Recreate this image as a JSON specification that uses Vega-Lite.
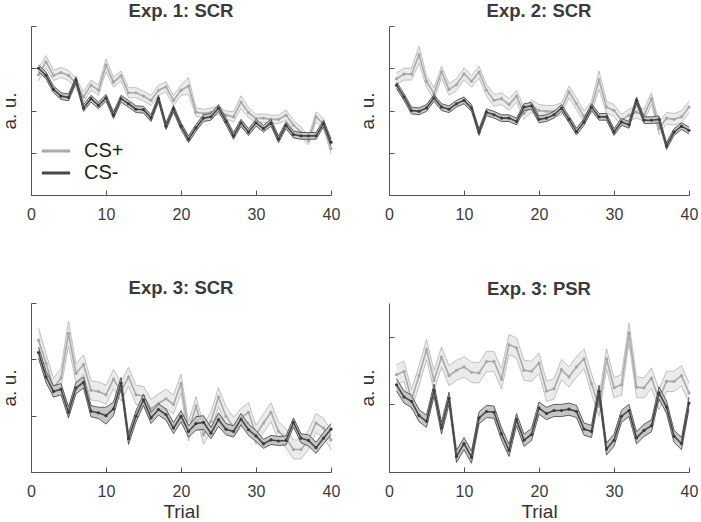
{
"$schema": "https://vega.github.io/schema/vega-lite/v6.json",
"padding": {"left": 0, "top": 2, "right": 5, "bottom": 0},
"config": {
  "view": {"stroke": null},
  "axis": {"grid": false, "domainColor": "#555", "domainWidth": 1, "tickColor": "#555", "tickSize": -5, "tickWidth": 1, "labelFont": "Liberation Sans", "labelFontSize": 16, "labelColor": "#3a3a3a", "labelPadding": 16, "labelFlush": false, "titleFont": "Liberation Sans", "titleFontSize": 19, "titleFontWeight": "normal", "titleColor": "#333"},
  "axisY": {"titlePadding": 11},
  "axisX": {"titlePadding": 3},
  "title": {"font": "Liberation Sans", "fontSize": 18.5, "fontWeight": "bold", "color": "#3a3a3a", "offset": 5}
},
"datasets": {
"p1": [
{"t":1,"a":2.85,"ea":0.15,"b":3.0,"eb":0.08},{"t":2,"a":3.15,"ea":0.15,"b":2.83,"eb":0.08},{"t":3,"a":2.83,"ea":0.12,"b":2.5,"eb":0.08},{"t":4,"a":2.9,"ea":0.12,"b":2.34,"eb":0.08},{"t":5,"a":2.83,"ea":0.12,"b":2.31,"eb":0.08},{"t":6,"a":2.64,"ea":0.12,"b":2.72,"eb":0.08},{"t":7,"a":2.32,"ea":0.12,"b":2.06,"eb":0.08},{"t":8,"a":2.6,"ea":0.12,"b":2.28,"eb":0.08},{"t":9,"a":2.48,"ea":0.12,"b":2.12,"eb":0.08},{"t":10,"a":3.07,"ea":0.15,"b":2.3,"eb":0.08},
{"t":11,"a":2.67,"ea":0.12,"b":1.89,"eb":0.08},{"t":12,"a":2.82,"ea":0.12,"b":2.28,"eb":0.08},{"t":13,"a":2.42,"ea":0.12,"b":2.16,"eb":0.08},{"t":14,"a":2.42,"ea":0.12,"b":2.03,"eb":0.08},{"t":15,"a":2.34,"ea":0.12,"b":2.02,"eb":0.08},{"t":16,"a":2.24,"ea":0.12,"b":1.82,"eb":0.08},{"t":17,"a":2.48,"ea":0.12,"b":2.28,"eb":0.08},{"t":18,"a":2.56,"ea":0.12,"b":1.63,"eb":0.08},{"t":19,"a":2.24,"ea":0.12,"b":2.04,"eb":0.08},{"t":20,"a":2.48,"ea":0.12,"b":1.63,"eb":0.08},
{"t":21,"a":2.58,"ea":0.2,"b":1.32,"eb":0.08},{"t":22,"a":1.96,"ea":0.1,"b":1.59,"eb":0.08},{"t":23,"a":1.93,"ea":0.1,"b":1.82,"eb":0.08},{"t":24,"a":1.96,"ea":0.1,"b":1.85,"eb":0.08},{"t":25,"a":2.0,"ea":0.1,"b":2.06,"eb":0.08},{"t":26,"a":1.89,"ea":0.1,"b":1.74,"eb":0.08},{"t":27,"a":1.85,"ea":0.12,"b":1.4,"eb":0.08},{"t":28,"a":2.2,"ea":0.15,"b":1.71,"eb":0.08},{"t":29,"a":1.95,"ea":0.12,"b":1.49,"eb":0.08},{"t":30,"a":1.81,"ea":0.1,"b":1.71,"eb":0.08},
{"t":31,"a":1.82,"ea":0.1,"b":1.57,"eb":0.08},{"t":32,"a":1.79,"ea":0.1,"b":1.71,"eb":0.08},{"t":33,"a":1.79,"ea":0.1,"b":1.32,"eb":0.08},{"t":34,"a":1.89,"ea":0.12,"b":1.65,"eb":0.08},{"t":35,"a":1.65,"ea":0.12,"b":1.43,"eb":0.08},{"t":36,"a":1.49,"ea":0.12,"b":1.4,"eb":0.08},{"t":37,"a":1.29,"ea":0.1,"b":1.4,"eb":0.08},{"t":38,"a":1.85,"ea":0.12,"b":1.4,"eb":0.08},{"t":39,"a":1.69,"ea":0.12,"b":1.69,"eb":0.08},{"t":40,"a":1.1,"ea":0.12,"b":1.25,"eb":0.08}
],
"p2": [
{"t":1,"a":2.75,"ea":0.14,"b":2.6,"eb":0.08},{"t":2,"a":2.86,"ea":0.14,"b":2.32,"eb":0.08},{"t":3,"a":2.86,"ea":0.14,"b":2.0,"eb":0.08},{"t":4,"a":3.32,"ea":0.2,"b":1.98,"eb":0.08},{"t":5,"a":2.69,"ea":0.14,"b":2.06,"eb":0.08},{"t":6,"a":2.4,"ea":0.14,"b":2.3,"eb":0.08},{"t":7,"a":2.91,"ea":0.14,"b":2.08,"eb":0.08},{"t":8,"a":2.5,"ea":0.14,"b":2.03,"eb":0.08},{"t":9,"a":2.61,"ea":0.14,"b":2.16,"eb":0.08},{"t":10,"a":2.87,"ea":0.14,"b":2.24,"eb":0.08},
{"t":11,"a":2.69,"ea":0.14,"b":2.06,"eb":0.08},{"t":12,"a":2.91,"ea":0.14,"b":1.49,"eb":0.08},{"t":13,"a":2.48,"ea":0.14,"b":1.96,"eb":0.08},{"t":14,"a":2.24,"ea":0.14,"b":1.9,"eb":0.08},{"t":15,"a":2.28,"ea":0.14,"b":1.82,"eb":0.08},{"t":16,"a":2.14,"ea":0.14,"b":1.82,"eb":0.08},{"t":17,"a":2.34,"ea":0.14,"b":1.74,"eb":0.08},{"t":18,"a":1.93,"ea":0.14,"b":2.08,"eb":0.08},{"t":19,"a":2.11,"ea":0.14,"b":2.11,"eb":0.08},{"t":20,"a":2.0,"ea":0.14,"b":1.79,"eb":0.08},
{"t":21,"a":1.98,"ea":0.14,"b":1.82,"eb":0.08},{"t":22,"a":1.98,"ea":0.14,"b":1.9,"eb":0.08},{"t":23,"a":2.04,"ea":0.14,"b":2.06,"eb":0.08},{"t":24,"a":2.44,"ea":0.14,"b":1.79,"eb":0.08},{"t":25,"a":2.16,"ea":0.14,"b":1.5,"eb":0.08},{"t":26,"a":1.85,"ea":0.14,"b":1.73,"eb":0.08},{"t":27,"a":2.08,"ea":0.14,"b":2.08,"eb":0.08},{"t":28,"a":2.72,"ea":0.22,"b":1.85,"eb":0.08},{"t":29,"a":2.08,"ea":0.14,"b":1.85,"eb":0.08},{"t":30,"a":2.0,"ea":0.14,"b":1.49,"eb":0.08},
{"t":31,"a":1.77,"ea":0.14,"b":1.73,"eb":0.08},{"t":32,"a":1.89,"ea":0.14,"b":1.66,"eb":0.08},{"t":33,"a":1.96,"ea":0.14,"b":2.24,"eb":0.08},{"t":34,"a":1.89,"ea":0.14,"b":1.77,"eb":0.08},{"t":35,"a":2.28,"ea":0.14,"b":1.77,"eb":0.08},{"t":36,"a":1.57,"ea":0.14,"b":1.79,"eb":0.08},{"t":37,"a":1.82,"ea":0.14,"b":1.16,"eb":0.08},{"t":38,"a":1.79,"ea":0.14,"b":1.49,"eb":0.08},{"t":39,"a":1.85,"ea":0.14,"b":1.63,"eb":0.08},{"t":40,"a":2.08,"ea":0.14,"b":1.53,"eb":0.08}
],
"p3": [
{"t":1,"a":2.34,"ea":0.22,"b":2.12,"eb":0.1},{"t":2,"a":1.93,"ea":0.17,"b":1.69,"eb":0.1},{"t":3,"a":1.49,"ea":0.17,"b":1.43,"eb":0.1},{"t":4,"a":1.67,"ea":0.17,"b":1.47,"eb":0.1},{"t":5,"a":2.46,"ea":0.22,"b":1.06,"eb":0.1},{"t":6,"a":1.75,"ea":0.17,"b":1.49,"eb":0.1},{"t":7,"a":1.91,"ea":0.17,"b":1.59,"eb":0.1},{"t":8,"a":1.45,"ea":0.17,"b":1.08,"eb":0.1},{"t":9,"a":1.43,"ea":0.17,"b":1.05,"eb":0.1},{"t":10,"a":1.37,"ea":0.17,"b":1.0,"eb":0.15},
{"t":11,"a":1.65,"ea":0.17,"b":1.12,"eb":0.12},{"t":12,"a":1.43,"ea":0.17,"b":1.58,"eb":0.1},{"t":13,"a":1.69,"ea":0.17,"b":0.59,"eb":0.1},{"t":14,"a":1.37,"ea":0.17,"b":0.99,"eb":0.1},{"t":15,"a":1.35,"ea":0.17,"b":1.28,"eb":0.1},{"t":16,"a":1.12,"ea":0.17,"b":0.96,"eb":0.1},{"t":17,"a":1.22,"ea":0.17,"b":1.11,"eb":0.1},{"t":18,"a":1.3,"ea":0.17,"b":1.02,"eb":0.1},{"t":19,"a":1.2,"ea":0.17,"b":0.78,"eb":0.1},{"t":20,"a":1.57,"ea":0.17,"b":0.99,"eb":0.1},
{"t":21,"a":0.72,"ea":0.17,"b":0.72,"eb":0.1},{"t":22,"a":1.17,"ea":0.17,"b":0.86,"eb":0.12},{"t":23,"a":0.66,"ea":0.17,"b":0.88,"eb":0.12},{"t":24,"a":0.9,"ea":0.17,"b":0.69,"eb":0.1},{"t":25,"a":1.33,"ea":0.17,"b":0.93,"eb":0.12},{"t":26,"a":0.99,"ea":0.17,"b":0.76,"eb":0.1},{"t":27,"a":0.8,"ea":0.17,"b":0.72,"eb":0.1},{"t":28,"a":0.96,"ea":0.17,"b":0.94,"eb":0.1},{"t":29,"a":1.06,"ea":0.17,"b":0.75,"eb":0.1},{"t":30,"a":0.66,"ea":0.17,"b":0.64,"eb":0.1},
{"t":31,"a":0.87,"ea":0.17,"b":0.5,"eb":0.08},{"t":32,"a":1.06,"ea":0.17,"b":0.57,"eb":0.08},{"t":33,"a":0.72,"ea":0.17,"b":0.55,"eb":0.08},{"t":34,"a":0.6,"ea":0.17,"b":0.56,"eb":0.08},{"t":35,"a":0.4,"ea":0.17,"b":0.88,"eb":0.08},{"t":36,"a":0.4,"ea":0.17,"b":0.6,"eb":0.08},{"t":37,"a":0.57,"ea":0.17,"b":0.56,"eb":0.1},{"t":38,"a":0.87,"ea":0.17,"b":0.43,"eb":0.1},{"t":39,"a":0.78,"ea":0.17,"b":0.6,"eb":0.1},{"t":40,"a":0.57,"ea":0.17,"b":0.76,"eb":0.1}
],
"p4": [
{"t":1,"a":2.88,"ea":0.3,"b":2.58,"eb":0.18},{"t":2,"a":2.98,"ea":0.3,"b":2.22,"eb":0.18},{"t":3,"a":2.14,"ea":0.3,"b":2.09,"eb":0.18},{"t":4,"a":2.85,"ea":0.3,"b":1.67,"eb":0.18},{"t":5,"a":3.62,"ea":0.3,"b":1.5,"eb":0.18},{"t":6,"a":2.71,"ea":0.3,"b":2.42,"eb":0.18},{"t":7,"a":3.4,"ea":0.3,"b":1.3,"eb":0.18},{"t":8,"a":2.85,"ea":0.3,"b":2.18,"eb":0.18},{"t":9,"a":3.01,"ea":0.3,"b":0.46,"eb":0.18},{"t":10,"a":3.11,"ea":0.3,"b":0.84,"eb":0.18},
{"t":11,"a":2.95,"ea":0.3,"b":0.44,"eb":0.18},{"t":12,"a":2.93,"ea":0.3,"b":1.6,"eb":0.18},{"t":13,"a":3.27,"ea":0.3,"b":1.79,"eb":0.18},{"t":14,"a":3.27,"ea":0.3,"b":1.77,"eb":0.18},{"t":15,"a":2.75,"ea":0.3,"b":1.13,"eb":0.18},{"t":16,"a":3.77,"ea":0.3,"b":0.64,"eb":0.18},{"t":17,"a":3.67,"ea":0.3,"b":1.55,"eb":0.18},{"t":18,"a":3.01,"ea":0.3,"b":0.94,"eb":0.18},{"t":19,"a":2.98,"ea":0.3,"b":1.11,"eb":0.18},{"t":20,"a":3.22,"ea":0.3,"b":1.89,"eb":0.18},
{"t":21,"a":2.39,"ea":0.3,"b":1.73,"eb":0.18},{"t":22,"a":2.46,"ea":0.3,"b":1.82,"eb":0.18},{"t":23,"a":3.03,"ea":0.3,"b":1.82,"eb":0.18},{"t":24,"a":2.81,"ea":0.3,"b":1.86,"eb":0.18},{"t":25,"a":3.11,"ea":0.3,"b":1.79,"eb":0.18},{"t":26,"a":3.35,"ea":0.3,"b":1.27,"eb":0.18},{"t":27,"a":2.61,"ea":0.3,"b":1.2,"eb":0.18},{"t":28,"a":1.94,"ea":0.3,"b":2.39,"eb":0.18},{"t":29,"a":3.35,"ea":0.3,"b":0.68,"eb":0.18},{"t":30,"a":2.49,"ea":0.3,"b":0.94,"eb":0.18},
{"t":31,"a":2.58,"ea":0.3,"b":1.65,"eb":0.18},{"t":32,"a":4.11,"ea":0.3,"b":1.82,"eb":0.18},{"t":33,"a":2.51,"ea":0.3,"b":1.01,"eb":0.18},{"t":34,"a":2.49,"ea":0.3,"b":1.23,"eb":0.18},{"t":35,"a":2.78,"ea":0.3,"b":1.37,"eb":0.18},{"t":36,"a":2.14,"ea":0.3,"b":2.34,"eb":0.18},{"t":37,"a":2.68,"ea":0.3,"b":1.92,"eb":0.18},{"t":38,"a":2.68,"ea":0.3,"b":1.06,"eb":0.18},{"t":39,"a":2.85,"ea":0.3,"b":0.84,"eb":0.18},{"t":40,"a":2.34,"ea":0.3,"b":2.04,"eb":0.18}
]
},
"columns": 2,
"spacing": {"row": 57, "column": 18},
"resolve": {"scale": {"x": "independent", "y": "independent", "color": "independent"}, "legend": {"color": "independent"}},
"concat": [
{
 "width": 300, "height": 169, "title": "Exp. 1: SCR", "data": {"name": "p1"},
 "encoding": {"x": {"field": "t", "type": "quantitative", "scale": {"domain": [0, 40], "nice": false}, "axis": {"values": [0, 10, 20, 30, 40], "title": null}}},
 "layer": [
  {"mark": {"type": "errorband", "color": "#ebebeb", "band": {"opacity": 1}, "borders": {"color": "#b4b4b4", "strokeWidth": 0.8}}, "encoding": {"y": {"field": "a", "type": "quantitative", "title": "a. u.", "scale": {"domain": [0, 4], "nice": false}, "axis": {"values": [0, 1, 2, 3, 4], "labels": false}}, "yError": {"field": "ea"}}},
  {"mark": {"type": "line", "strokeWidth": 1.6}, "encoding": {"y": {"field": "a", "type": "quantitative", "title": "a. u."}, "color": {"datum": "CS+", "type": "nominal", "scale": {"domain": ["CS+", "CS-"], "range": ["#aaaaaa", "#474747"]}, "legend": {"orient": "none", "legendX": 9, "legendY": 114, "title": null, "symbolType": "stroke", "symbolSize": 800, "symbolStrokeWidth": 3, "labelFont": "Liberation Sans", "labelFontSize": 20, "labelColor": "#222", "labelOffset": 12, "clipHeight": 22, "rowPadding": 0}}}},
  {"mark": {"type": "circle", "size": 10, "color": "#a6a6a6", "opacity": 1}, "encoding": {"y": {"field": "a", "type": "quantitative", "title": "a. u."}}},
  {"mark": {"type": "errorband", "color": "#c6c6c6", "band": {"opacity": 1}, "borders": {"color": "#3c3c3c", "strokeWidth": 0.8}}, "encoding": {"y": {"field": "b", "type": "quantitative", "title": "a. u."}, "yError": {"field": "eb"}}},
  {"mark": {"type": "line", "strokeWidth": 1.6}, "encoding": {"y": {"field": "b", "type": "quantitative", "title": "a. u."}, "color": {"datum": "CS-", "type": "nominal"}}},
  {"mark": {"type": "circle", "size": 10, "color": "#3c3c3c", "opacity": 1}, "encoding": {"y": {"field": "b", "type": "quantitative", "title": "a. u."}}}
 ]
},
{
 "width": 300, "height": 169, "title": "Exp. 2: SCR", "data": {"name": "p2"},
 "encoding": {"x": {"field": "t", "type": "quantitative", "scale": {"domain": [0, 40], "nice": false}, "axis": {"values": [0, 10, 20, 30, 40], "title": null}}},
 "layer": [
  {"mark": {"type": "errorband", "color": "#ebebeb", "band": {"opacity": 1}, "borders": {"color": "#b4b4b4", "strokeWidth": 0.8}}, "encoding": {"y": {"field": "a", "type": "quantitative", "title": "a. u.", "scale": {"domain": [0, 4], "nice": false}, "axis": {"values": [0, 1, 2, 3, 4], "labels": false}}, "yError": {"field": "ea"}}},
  {"mark": {"type": "line", "strokeWidth": 1.6}, "encoding": {"y": {"field": "a", "type": "quantitative", "title": "a. u."}, "color": {"datum": "CS+", "type": "nominal", "scale": {"domain": ["CS+", "CS-"], "range": ["#aaaaaa", "#474747"]}, "legend": null}}},
  {"mark": {"type": "circle", "size": 10, "color": "#a6a6a6", "opacity": 1}, "encoding": {"y": {"field": "a", "type": "quantitative", "title": "a. u."}}},
  {"mark": {"type": "errorband", "color": "#c6c6c6", "band": {"opacity": 1}, "borders": {"color": "#3c3c3c", "strokeWidth": 0.8}}, "encoding": {"y": {"field": "b", "type": "quantitative", "title": "a. u."}, "yError": {"field": "eb"}}},
  {"mark": {"type": "line", "strokeWidth": 1.6}, "encoding": {"y": {"field": "b", "type": "quantitative", "title": "a. u."}, "color": {"datum": "CS-", "type": "nominal"}}},
  {"mark": {"type": "circle", "size": 10, "color": "#3c3c3c", "opacity": 1}, "encoding": {"y": {"field": "b", "type": "quantitative", "title": "a. u."}}}
 ]
},
{
 "width": 300, "height": 169, "title": "Exp. 3: SCR", "data": {"name": "p3"},
 "encoding": {"x": {"field": "t", "type": "quantitative", "scale": {"domain": [0, 40], "nice": false}, "axis": {"values": [0, 10, 20, 30, 40], "title": "Trial"}}},
 "layer": [
  {"mark": {"type": "errorband", "color": "#ebebeb", "band": {"opacity": 1}, "borders": {"color": "#b4b4b4", "strokeWidth": 0.8}}, "encoding": {"y": {"field": "a", "type": "quantitative", "title": "a. u.", "scale": {"domain": [0, 3], "nice": false}, "axis": {"values": [0, 1, 2, 3], "labels": false}}, "yError": {"field": "ea"}}},
  {"mark": {"type": "line", "strokeWidth": 1.6}, "encoding": {"y": {"field": "a", "type": "quantitative", "title": "a. u."}, "color": {"datum": "CS+", "type": "nominal", "scale": {"domain": ["CS+", "CS-"], "range": ["#aaaaaa", "#474747"]}, "legend": null}}},
  {"mark": {"type": "circle", "size": 10, "color": "#a6a6a6", "opacity": 1}, "encoding": {"y": {"field": "a", "type": "quantitative", "title": "a. u."}}},
  {"mark": {"type": "errorband", "color": "#c6c6c6", "band": {"opacity": 1}, "borders": {"color": "#3c3c3c", "strokeWidth": 0.8}}, "encoding": {"y": {"field": "b", "type": "quantitative", "title": "a. u."}, "yError": {"field": "eb"}}},
  {"mark": {"type": "line", "strokeWidth": 1.6}, "encoding": {"y": {"field": "b", "type": "quantitative", "title": "a. u."}, "color": {"datum": "CS-", "type": "nominal"}}},
  {"mark": {"type": "circle", "size": 10, "color": "#3c3c3c", "opacity": 1}, "encoding": {"y": {"field": "b", "type": "quantitative", "title": "a. u."}}}
 ]
},
{
 "width": 300, "height": 169, "title": "Exp. 3: PSR", "data": {"name": "p4"},
 "encoding": {"x": {"field": "t", "type": "quantitative", "scale": {"domain": [0, 40], "nice": false}, "axis": {"values": [0, 10, 20, 30, 40], "title": "Trial"}}},
 "layer": [
  {"mark": {"type": "errorband", "color": "#ebebeb", "band": {"opacity": 1}, "borders": {"color": "#b4b4b4", "strokeWidth": 0.8}}, "encoding": {"y": {"field": "a", "type": "quantitative", "title": "a. u.", "scale": {"domain": [0, 5], "nice": false}, "axis": {"values": [0, 1, 2, 3, 4, 5], "labels": false}}, "yError": {"field": "ea"}}},
  {"mark": {"type": "line", "strokeWidth": 1.6}, "encoding": {"y": {"field": "a", "type": "quantitative", "title": "a. u."}, "color": {"datum": "CS+", "type": "nominal", "scale": {"domain": ["CS+", "CS-"], "range": ["#aaaaaa", "#474747"]}, "legend": null}}},
  {"mark": {"type": "circle", "size": 10, "color": "#a6a6a6", "opacity": 1}, "encoding": {"y": {"field": "a", "type": "quantitative", "title": "a. u."}}},
  {"mark": {"type": "errorband", "color": "#c6c6c6", "band": {"opacity": 1}, "borders": {"color": "#3c3c3c", "strokeWidth": 0.8}}, "encoding": {"y": {"field": "b", "type": "quantitative", "title": "a. u."}, "yError": {"field": "eb"}}},
  {"mark": {"type": "line", "strokeWidth": 1.6}, "encoding": {"y": {"field": "b", "type": "quantitative", "title": "a. u."}, "color": {"datum": "CS-", "type": "nominal"}}},
  {"mark": {"type": "circle", "size": 10, "color": "#3c3c3c", "opacity": 1}, "encoding": {"y": {"field": "b", "type": "quantitative", "title": "a. u."}}}
 ]
}
]
}
